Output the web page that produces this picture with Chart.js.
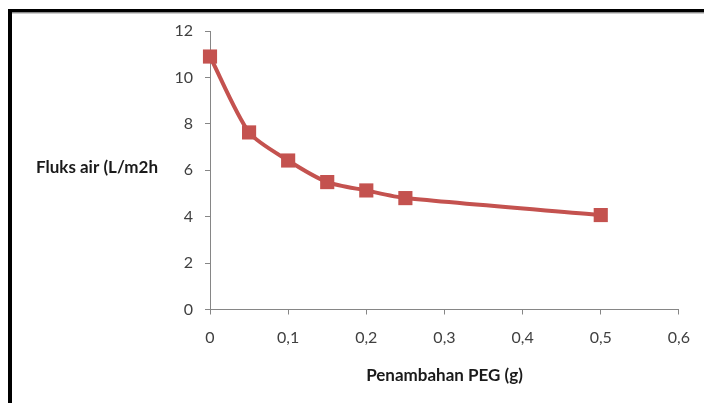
<!DOCTYPE html>
<html>
<head>
<meta charset="utf-8">
<script src="https://cdn.jsdelivr.net/npm/chart.js@4/dist/chart.umd.min.js"></script>
<style>
  html, body { margin: 0; padding: 0; background: #fff; }
  #wrap { position: relative; width: 704px; height: 403px; }
</style>
</head>
<body>
<div id="wrap"><canvas id="c" width="704" height="403"></canvas></div>
<script>
// ---- data ----
const pegAdded = [0, 0.05, 0.1, 0.15, 0.2, 0.25, 0.5];
const waterFlux = [10.9, 7.63, 6.42, 5.49, 5.13, 4.8, 4.07];
const xTicks = [0, 0.1, 0.2, 0.3, 0.4, 0.5, 0.6];
const xTickLabels = ['0', '0,1', '0,2', '0,3', '0,4', '0,5', '0,6'];
const yTicks = [0, 2, 4, 6, 8, 10, 12];
const yTitle = 'Fluks air (L/m2h';
const xTitle = 'Penambahan PEG (g)';

const RED = '#C4524F';
const AXIS = '#868686';
const TXT = '#404040';

const decor = {
  id: 'decor',
  afterDraw(chart) {
    const ctx = chart.ctx;
    ctx.save();
    // frame (top and left edges visible)
    ctx.fillStyle = '#000';
    ctx.fillRect(8, 9, 704, 3.5);
    ctx.fillRect(8, 9, 4, 403);
    ctx.fillStyle = '#9a9a9a';
    ctx.fillRect(12, 12.5, 704, 1);
    // titles
    ctx.fillStyle = '#1a1a1a';
    ctx.font = 'bold 17px Lato';
    ctx.textBaseline = 'middle';
    ctx.textAlign = 'left';
    ctx.fillText(yTitle, 36, 168);
    ctx.textAlign = 'center';
    ctx.fillText(xTitle, 444.5, 376);
    ctx.restore();
  }
};

new Chart(document.getElementById('c'), {
  type: 'scatter',
  data: {
    datasets: [{
      data: pegAdded.map((x, i) => ({ x, y: waterFlux[i] })),
      showLine: true,
      clip: false,
      borderColor: RED,
      backgroundColor: RED,
      borderWidth: 4,
      tension: 0.25,
      pointStyle: 'rect',
      pointRadius: 10,
      pointHoverRadius: 10,
      pointBorderWidth: 0
    }]
  },
  options: {
    responsive: false,
    animation: false,
    events: [],
    layout: { padding: { left: 0, right: 24, top: 31, bottom: 0 } },
    plugins: { legend: { display: false }, tooltip: { enabled: false } },
    scales: {
      x: {
        type: 'linear',
        min: 0, max: 0.6,
        afterBuildTicks: s => { s.ticks = xTicks.map(v => ({ value: v })); },
        afterFit: s => { s.height = 93.5; },
        grid: { display: true, drawOnChartArea: false, drawTicks: true, tickLength: 5, color: AXIS },
        border: { display: true, color: AXIS, width: 1 },
        ticks: {
          color: TXT,
          font: { family: 'Lato', size: 16 },
          padding: 14,
          maxRotation: 0,
          callback: (v) => { const i = xTicks.findIndex(t => Math.abs(t - v) < 1e-9); return i >= 0 ? xTickLabels[i] : ''; }
        }
      },
      y: {
        type: 'linear',
        min: 0, max: 12,
        afterBuildTicks: s => { s.ticks = yTicks.map(v => ({ value: v })); },
        afterFit: s => { s.width = 210; },
        grid: { display: true, drawOnChartArea: false, drawTicks: true, tickLength: 5, color: AXIS },
        border: { display: true, color: AXIS, width: 1 },
        ticks: {
          color: TXT,
          font: { family: 'Lato', size: 16 },
          padding: 12
        }
      }
    }
  },
  plugins: [decor]
});
</script>
</body>
</html>
